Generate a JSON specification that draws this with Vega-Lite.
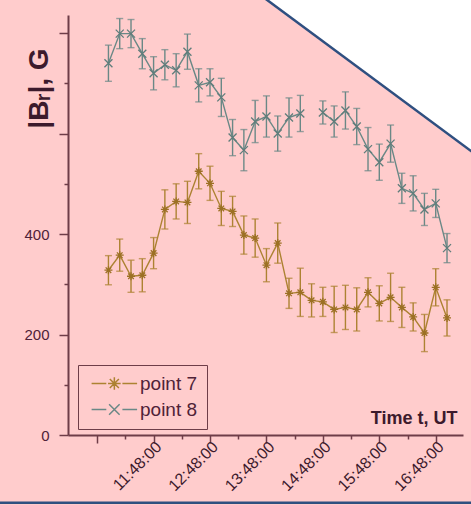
{
  "$schema": "https://vega.github.io/schema/vega-lite/v6.json",
  "width": 395,
  "height": 420,
  "autosize": "none",
  "padding": {"left": 68, "top": 15, "right": 8, "bottom": 70},
  "background": "#ffcccc",
  "datasets": {
    "series": [
      {"t": "2000-01-01T11:00", "s": "point 7", "v": 328, "e": 29},
      {"t": "2000-01-01T11:12", "s": "point 7", "v": 358, "e": 32},
      {"t": "2000-01-01T11:24", "s": "point 7", "v": 316, "e": 32},
      {"t": "2000-01-01T11:36", "s": "point 7", "v": 318, "e": 33},
      {"t": "2000-01-01T11:48", "s": "point 7", "v": 362, "e": 31},
      {"t": "2000-01-01T12:00", "s": "point 7", "v": 449, "e": 39},
      {"t": "2000-01-01T12:12", "s": "point 7", "v": 465, "e": 35},
      {"t": "2000-01-01T12:24", "s": "point 7", "v": 463, "e": 42},
      {"t": "2000-01-01T12:36", "s": "point 7", "v": 525, "e": 35},
      {"t": "2000-01-01T12:48", "s": "point 7", "v": 501, "e": 34},
      {"t": "2000-01-01T13:00", "s": "point 7", "v": 451, "e": 34},
      {"t": "2000-01-01T13:12", "s": "point 7", "v": 445, "e": 30},
      {"t": "2000-01-01T13:24", "s": "point 7", "v": 398, "e": 38},
      {"t": "2000-01-01T13:36", "s": "point 7", "v": 392, "e": 38},
      {"t": "2000-01-01T13:48", "s": "point 7", "v": 338, "e": 33},
      {"t": "2000-01-01T14:00", "s": "point 7", "v": 382, "e": 40},
      {"t": "2000-01-01T14:12", "s": "point 7", "v": 282, "e": 30},
      {"t": "2000-01-01T14:24", "s": "point 7", "v": 284, "e": 48},
      {"t": "2000-01-01T14:36", "s": "point 7", "v": 268, "e": 33},
      {"t": "2000-01-01T14:48", "s": "point 7", "v": 265, "e": 29},
      {"t": "2000-01-01T15:00", "s": "point 7", "v": 250, "e": 46},
      {"t": "2000-01-01T15:12", "s": "point 7", "v": 254, "e": 44},
      {"t": "2000-01-01T15:24", "s": "point 7", "v": 250, "e": 43},
      {"t": "2000-01-01T15:36", "s": "point 7", "v": 284, "e": 29},
      {"t": "2000-01-01T15:48", "s": "point 7", "v": 262, "e": 35},
      {"t": "2000-01-01T16:00", "s": "point 7", "v": 274, "e": 48},
      {"t": "2000-01-01T16:12", "s": "point 7", "v": 254, "e": 40},
      {"t": "2000-01-01T16:24", "s": "point 7", "v": 235, "e": 28},
      {"t": "2000-01-01T16:36", "s": "point 7", "v": 203, "e": 37},
      {"t": "2000-01-01T16:48", "s": "point 7", "v": 294, "e": 37},
      {"t": "2000-01-01T17:00", "s": "point 7", "v": 233, "e": 36},
      {"t": "2000-01-01T11:00", "s": "point 8", "v": 740, "e": 36},
      {"t": "2000-01-01T11:12", "s": "point 8", "v": 799, "e": 30},
      {"t": "2000-01-01T11:24", "s": "point 8", "v": 799, "e": 28},
      {"t": "2000-01-01T11:36", "s": "point 8", "v": 759, "e": 30},
      {"t": "2000-01-01T11:48", "s": "point 8", "v": 720, "e": 33},
      {"t": "2000-01-01T12:00", "s": "point 8", "v": 737, "e": 30},
      {"t": "2000-01-01T12:12", "s": "point 8", "v": 726, "e": 33},
      {"t": "2000-01-01T12:24", "s": "point 8", "v": 763, "e": 35},
      {"t": "2000-01-01T12:36", "s": "point 8", "v": 696, "e": 33},
      {"t": "2000-01-01T12:48", "s": "point 8", "v": 702, "e": 27},
      {"t": "2000-01-01T13:00", "s": "point 8", "v": 672, "e": 38},
      {"t": "2000-01-01T13:12", "s": "point 8", "v": 592, "e": 36},
      {"t": "2000-01-01T13:24", "s": "point 8", "v": 567, "e": 41},
      {"t": "2000-01-01T13:36", "s": "point 8", "v": 624, "e": 42},
      {"t": "2000-01-01T13:48", "s": "point 8", "v": 634, "e": 41},
      {"t": "2000-01-01T14:00", "s": "point 8", "v": 600, "e": 35},
      {"t": "2000-01-01T14:12", "s": "point 8", "v": 632, "e": 39},
      {"t": "2000-01-01T14:24", "s": "point 8", "v": 640, "e": 36},
      {"t": "2000-01-01T14:36", "s": "point 8", "v": null, "e": null},
      {"t": "2000-01-01T14:48", "s": "point 8", "v": 642, "e": 23},
      {"t": "2000-01-01T15:00", "s": "point 8", "v": 624, "e": 31},
      {"t": "2000-01-01T15:12", "s": "point 8", "v": 646, "e": 37},
      {"t": "2000-01-01T15:24", "s": "point 8", "v": 614, "e": 36},
      {"t": "2000-01-01T15:36", "s": "point 8", "v": 569, "e": 43},
      {"t": "2000-01-01T15:48", "s": "point 8", "v": 543, "e": 36},
      {"t": "2000-01-01T16:00", "s": "point 8", "v": 580, "e": 37},
      {"t": "2000-01-01T16:12", "s": "point 8", "v": 491, "e": 30},
      {"t": "2000-01-01T16:24", "s": "point 8", "v": 481, "e": 35},
      {"t": "2000-01-01T16:36", "s": "point 8", "v": 449, "e": 32},
      {"t": "2000-01-01T16:48", "s": "point 8", "v": 461, "e": 28},
      {"t": "2000-01-01T17:00", "s": "point 8", "v": 372, "e": 29}
    ],
    "corner": [
      {"t": "2000-01-01T13:45", "v": 871, "top": 1000},
      {"t": "2000-01-01T17:30", "v": 559, "top": 1000}
    ],
    "edge": [
      {"t": "2000-01-01T09:00", "t2": "2000-01-01T17:40", "v": -135}
    ]
  },
  "encoding": {
    "x": {
      "field": "t",
      "type": "temporal",
      "scale": {
        "domain": [
          {"year": 2000, "month": 1, "date": 1, "hours": 10, "minutes": 17},
          {"year": 2000, "month": 1, "date": 1, "hours": 17, "minutes": 17}
        ]
      },
      "axis": {
        "orient": "bottom",
        "values": [
          {"year": 2000, "month": 1, "date": 1, "hours": 10, "minutes": 48},
          {"year": 2000, "month": 1, "date": 1, "hours": 11, "minutes": 18},
          {"year": 2000, "month": 1, "date": 1, "hours": 11, "minutes": 48},
          {"year": 2000, "month": 1, "date": 1, "hours": 12, "minutes": 18},
          {"year": 2000, "month": 1, "date": 1, "hours": 12, "minutes": 48},
          {"year": 2000, "month": 1, "date": 1, "hours": 13, "minutes": 18},
          {"year": 2000, "month": 1, "date": 1, "hours": 13, "minutes": 48},
          {"year": 2000, "month": 1, "date": 1, "hours": 14, "minutes": 18},
          {"year": 2000, "month": 1, "date": 1, "hours": 14, "minutes": 48},
          {"year": 2000, "month": 1, "date": 1, "hours": 15, "minutes": 18},
          {"year": 2000, "month": 1, "date": 1, "hours": 15, "minutes": 48},
          {"year": 2000, "month": 1, "date": 1, "hours": 16, "minutes": 18},
          {"year": 2000, "month": 1, "date": 1, "hours": 16, "minutes": 48}
        ],
        "tickSize": {"condition": {"test": "minutes(datum.value) === 48", "value": 8}, "value": 4},
        "labelExpr": "hours(datum.value) >= 11 && minutes(datum.value) === 48 ? timeFormat(datum.value, '%H:%M:%S') : ''",
        "labelAngle": -45,
        "labelAlign": "right",
        "labelBaseline": "middle",
        "labelPadding": 1,
        "labelOffset": 5,
        "labelFontSize": 16,
        "labelColor": "#3c1a2c",
        "title": "Time t, UT",
        "titleFontSize": 18,
        "titleAlign": "right",
        "titleBaseline": "alphabetic",
        "titleX": 389,
        "titleY": -12
      }
    },
    "y": {
      "field": "v",
      "type": "quantitative",
      "scale": {"domain": [0, 836], "nice": false, "zero": false},
      "axis": {
        "orient": "left",
        "values": [0, 100, 200, 300, 400, 500, 600, 700, 800],
        "tickSize": {"condition": {"test": "datum.value % 200 === 0", "value": 9}, "value": 4},
        "labelExpr": "datum.value <= 400 && datum.value % 200 === 0 ? datum.label : ''",
        "labelPadding": 10,
        "labelFontSize": 15,
        "title": "|Bᵣ|, G",
        "titleFontSize": 28,
        "titleAngle": -90,
        "titleAlign": "center",
        "titleBaseline": "alphabetic",
        "titleX": -21,
        "titleY": 73
      }
    }
  },
  "layer": [
    {
      "data": {"name": "series"},
      "mark": {"type": "line", "strokeWidth": 1.4, "invalid": "break-paths-filter-domains"},
      "encoding": {
        "color": {
          "field": "s",
          "type": "nominal",
          "scale": {"domain": ["point 7", "point 8"], "range": ["#ad8232", "#6a8886"]},
          "legend": {
            "orient": "none",
            "legendX": 10,
            "legendY": 350,
            "title": null,
            "symbolType": "M-0.7,0H1.4M3.7,0H5.8",
            "encode": {
              "symbols": {
                "enter": {
                  "shape": {"signal": "datum.value === 'point 7' ? 'M-0.7,0H1.4M3.7,0H5.8M1.65,0H3.45M2.55,-0.9V0.9M1.9,-0.65L3.2,0.65M1.9,0.65L3.2,-0.65' : 'M-0.7,0H1.4M3.7,0H5.8M1.8,-0.75L3.3,0.75M1.8,0.75L3.3,-0.75'"}
                },
                "update": {
                  "shape": {"signal": "datum.value === 'point 7' ? 'M-0.7,0H1.4M3.7,0H5.8M1.65,0H3.45M2.55,-0.9V0.9M1.9,-0.65L3.2,0.65M1.9,0.65L3.2,-0.65' : 'M-0.7,0H1.4M3.7,0H5.8M1.8,-0.75L3.3,0.75M1.8,0.75L3.3,-0.75'"},
                  "fill": {"value": "transparent"},
                  "strokeWidth": {"value": 1.5}
                }
              }
            }
          }
        }
      }
    },
    {
      "data": {"name": "series"},
      "transform": [{"filter": "isValid(datum.v)"}],
      "mark": {"type": "errorbar", "ticks": {"size": 7, "thickness": 1.4}, "rule": {"strokeWidth": 1.4}},
      "encoding": {
        "yError": {"field": "e"},
        "color": {"field": "s", "type": "nominal"}
      }
    },
    {
      "data": {"name": "series"},
      "transform": [{"filter": "datum.s === 'point 7' && isValid(datum.v)"}],
      "mark": {
        "type": "point",
        "filled": false,
        "size": 64,
        "strokeWidth": 1.3,
        "opacity": 1,
        "color": "#9c7024",
        "shape": "M-1,0H1M0,-1V1M-0.7,-0.7L0.7,0.7M-0.7,0.7L0.7,-0.7"
      }
    },
    {
      "data": {"name": "series"},
      "transform": [{"filter": "datum.s === 'point 8' && isValid(datum.v)"}],
      "mark": {
        "type": "point",
        "filled": false,
        "size": 64,
        "strokeWidth": 1.3,
        "opacity": 1,
        "color": "#5f7d7b",
        "shape": "M-1,-1L1,1M-1,1L1,-1"
      }
    },
    {
      "data": {"name": "corner"},
      "mark": {"type": "area", "color": "#ffffff", "opacity": 1},
      "encoding": {"y2": {"field": "top"}}
    },
    {
      "data": {"name": "corner"},
      "mark": {"type": "line", "color": "#2f4f80", "strokeWidth": 2.5},
      "encoding": {}
    },
    {
      "data": {"name": "edge"},
      "mark": {"type": "rule", "color": "#2f4f80", "strokeWidth": 2.5},
      "encoding": {"x2": {"field": "t2"}}
    }
  ],
  "config": {
    "view": {"stroke": null},
    "font": "Liberation Sans",
    "axis": {
      "grid": false,
      "domainColor": "#6e3d48",
      "domainWidth": 2,
      "tickColor": "#6e3d48",
      "tickWidth": 1.5,
      "labelFont": "Liberation Sans",
      "labelColor": "#4f2238",
      "titleFont": "Liberation Sans",
      "titleFontWeight": "bold",
      "titleColor": "#3c1a2c"
    },
    "legend": {
      "strokeColor": "#6e3d48",
      "padding": 9,
      "symbolSize": 196,
      "symbolStrokeWidth": 1.5,
      "labelFont": "Liberation Sans",
      "labelFontSize": 19,
      "labelColor": "#4f2238",
      "labelOffset": 34,
      "rowPadding": 6
    }
  }
}
